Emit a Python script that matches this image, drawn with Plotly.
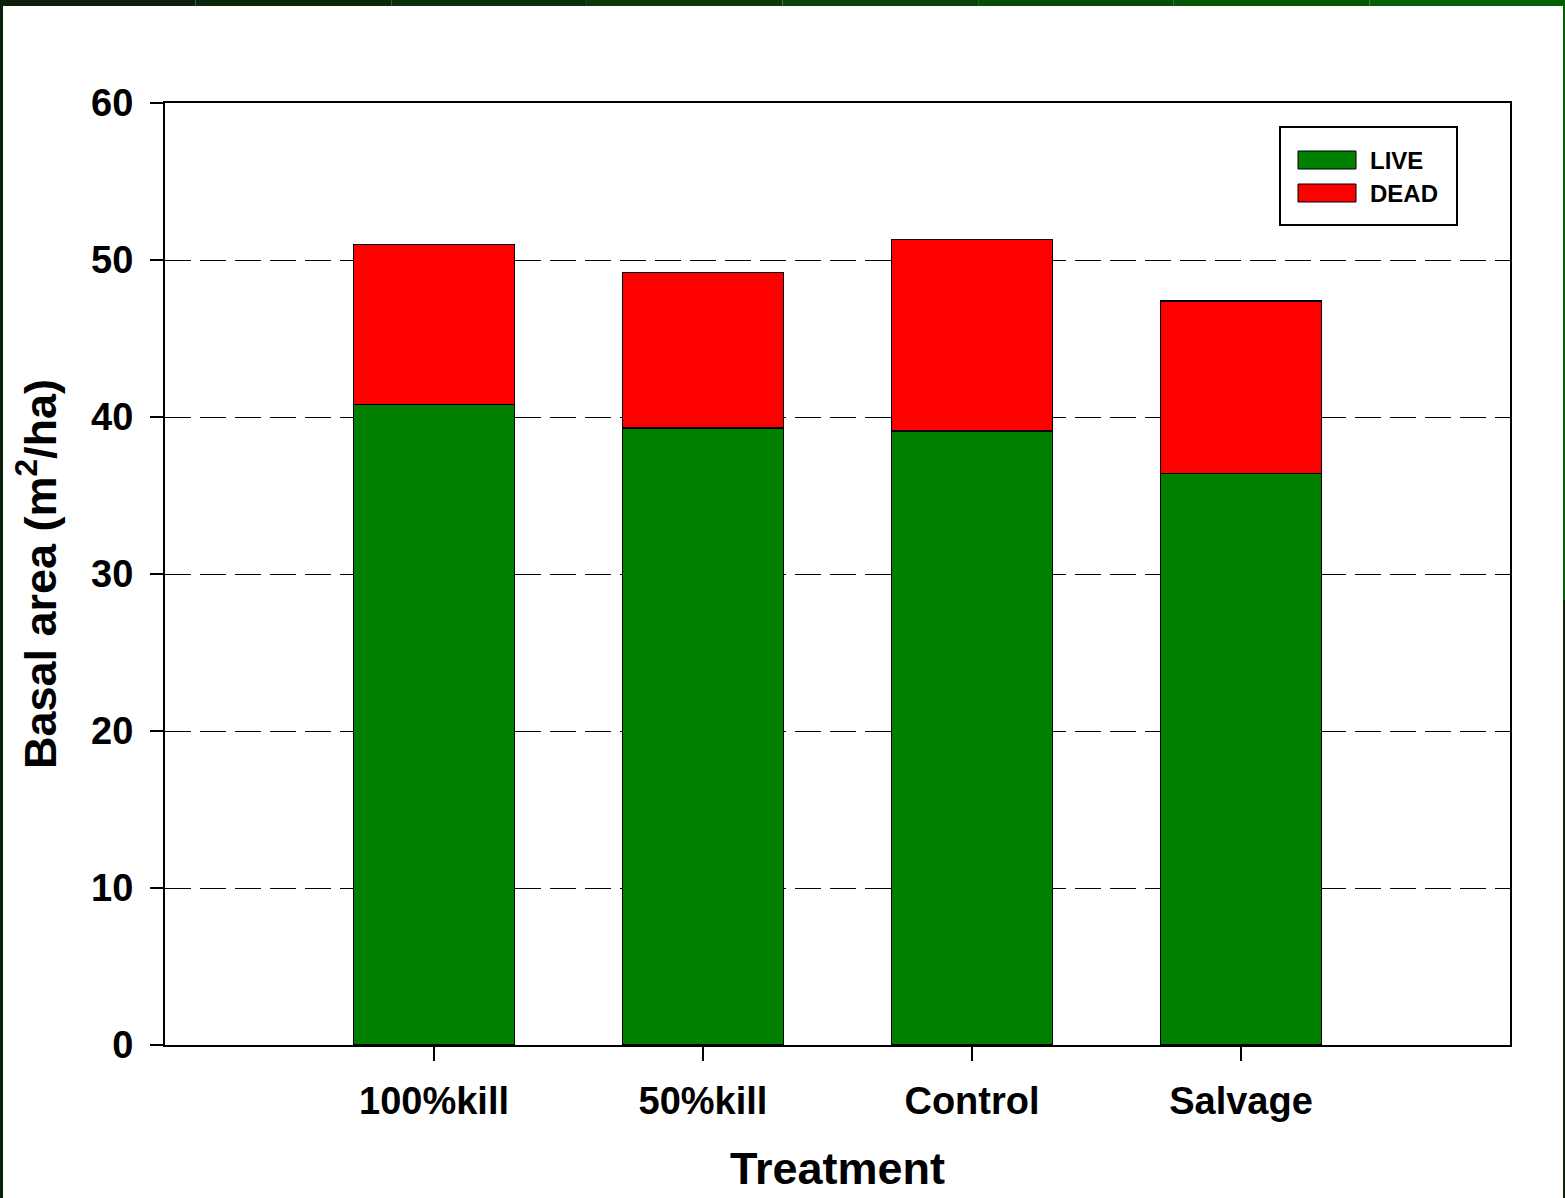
import plotly.graph_objects as go

# data
treatments = ["100%kill", "50%kill", "Control", "Salvage"]
live = [40.8, 39.3, 39.1, 36.4]
dead = [10.2, 9.9, 12.2, 11.0]

W, H = 1565, 1198
L, R, T, B = 165, 55, 103, 153
PW, PH = W - L - R, H - T - B


def px(x):
    return (x - L) / PW


def py(y):
    return (H - B - y) / PH


FONT = "Liberation Sans, Arial, sans-serif"

fig = go.Figure()
fig.add_trace(go.Bar(x=treatments, y=live, name="LIVE", width=0.6,
                     marker=dict(color="#007F00", line=dict(color="black", width=1.5))))
fig.add_trace(go.Bar(x=treatments, y=dead, name="DEAD", width=0.6,
                     marker=dict(color="#FF0000", line=dict(color="black", width=1.5))))

shapes = []
# legend box and swatches
shapes.append(dict(type="rect", xref="paper", yref="paper",
                   x0=px(1280), x1=px(1457), y0=py(225), y1=py(127),
                   line=dict(color="black", width=2), fillcolor="white"))
annotations = []
for i, (name, col) in enumerate([("LIVE", "#007F00"), ("DEAD", "#FF0000")]):
    yc = 160 + i * 33
    shapes.append(dict(type="rect", xref="paper", yref="paper",
                       x0=px(1298), x1=px(1356), y0=py(yc + 9), y1=py(yc - 9),
                       line=dict(color="black", width=1), fillcolor=col))
    annotations.append(dict(text=name, xref="paper", yref="paper",
                            x=px(1368), y=py(yc), xanchor="left", yanchor="middle",
                            showarrow=False,
                            font=dict(family=FONT, size=24, color="black", weight="bold")))

# dark green frame around the figure
top_cols = ["#0b1f0b", "#0c260c", "#0b2e0b", "#0a380a", "#084208", "#064c06", "#045604", "#026002"]
n = len(top_cols)
for i, c in enumerate(top_cols):
    shapes.append(dict(type="rect", xref="paper", yref="paper", layer="above",
                       x0=px(W * i / n), x1=px(W * (i + 1) / n), y0=py(6), y1=py(0),
                       line=dict(width=0), fillcolor=c))
shapes.append(dict(type="rect", xref="paper", yref="paper", layer="above",
                   x0=px(0), x1=px(3), y0=py(H), y1=py(0),
                   line=dict(width=0), fillcolor="#0b1f0b"))
shapes.append(dict(type="rect", xref="paper", yref="paper", layer="above",
                   x0=px(W - 2), x1=px(W), y0=py(600), y1=py(0),
                   line=dict(width=0), fillcolor="#026002"))
shapes.append(dict(type="rect", xref="paper", yref="paper", layer="above",
                   x0=px(W - 2), x1=px(W), y0=py(H), y1=py(600),
                   line=dict(width=0), fillcolor="#0b1f0b"))

fig.update_layout(
    width=W, height=H,
    margin=dict(l=L, r=R, t=T, b=B, autoexpand=False),
    barmode="stack",
    showlegend=False,
    plot_bgcolor="white", paper_bgcolor="white",
    font=dict(family=FONT, color="black"),
    shapes=shapes,
    annotations=annotations,
)
fig.update_xaxes(
    type="category", range=[-1, 4],
    showline=True, linecolor="black", linewidth=2, mirror=True,
    ticks="outside", ticklen=14, tickwidth=2, tickcolor="black",
    tickfont=dict(family=FONT, size=38, weight="bold"),
    ticklabelstandoff=7,
    title=dict(text="Treatment", font=dict(family=FONT, size=45, weight="bold"), standoff=32),
    showgrid=False,
)
fig.update_yaxes(
    range=[0, 60], dtick=10,
    showline=True, linecolor="black", linewidth=2, mirror=True,
    ticks="outside", ticklen=13, tickwidth=2, tickcolor="black",
    tickfont=dict(family=FONT, size=38, weight="bold"),
    ticklabelstandoff=9,
    showgrid=True, gridcolor="black", gridwidth=1, griddash="26px,9px",
    zeroline=False,
    title=dict(text="Basal area (m<sup>2</sup>/ha)",
               font=dict(family=FONT, size=45, weight="bold"), standoff=20),
)

fig.write_html("out.html", config=dict(displayModeBar=False),
               post_script="document.body.style.margin='0';")
